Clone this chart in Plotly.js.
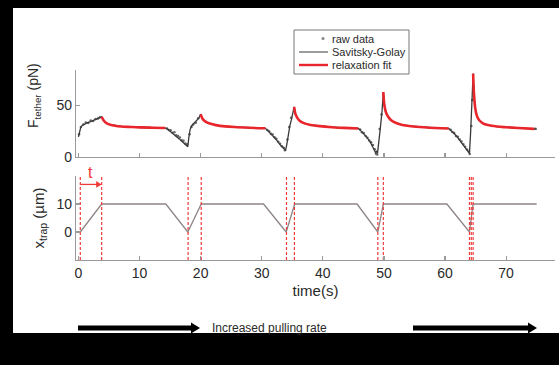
<!DOCTYPE html>
<html><head><meta charset="utf-8">
<script src="https://cdn.plot.ly/plotly-3.0.1.min.js"></script>
<style>html,body{margin:0;padding:0;background:#000;}#chart{width:559px;height:365px;}</style>
</head><body><div id="chart"></div>
<script>
// Savitsky-Golay smoothed tether force (pN) vs time (s)
const sgTime = [0.0,0.15,0.35,0.6,1.0,1.5,2.0,2.5,3.0,3.5,3.8,4.1,4.5,5.0,6.0,7.0,8.5,10,12,14.2,
  14.6,15.0,15.5,16.0,16.5,17.0,17.5,17.9,18.05,18.25,18.5,18.9,19.3,19.7,20.0,
  20.3,20.8,21.5,22.5,24,26,28,30.6,31.0,31.5,32.0,32.5,33.0,33.5,33.9,
  34.1,34.35,34.6,34.9,35.1,35.3,35.5,35.8,36.2,37,38,39.5,41.5,43.5,45.8,
  46.2,46.7,47.2,47.7,48.1,48.4,48.6,48.8,48.95,49.2,49.45,49.7,49.9,
  50.1,50.4,50.8,51.3,52,53,54.5,56.5,58.5,60.6,61.1,61.6,62.1,62.6,63.1,63.6,64.0,
  64.2,64.4,64.6,64.75,64.95,65.2,65.6,66.2,67,68.5,70,72,75];
const sgForce = [19.5,24,28,30.5,32,33.2,34.2,35.3,36.5,37.8,38.8,35.5,33,31.5,30.2,29.5,29,28.6,28.3,28,
  26.8,25,22.6,20.2,17.5,14.8,12.3,10,18,26,30,32.5,34.5,37.5,41.3,
  37,34.2,32.3,30.8,29.6,28.8,28.2,27.7,25.5,22.5,19.5,15.8,12,8.5,6.5,
  12,22,30,37,42,48.4,42,38,35,32.5,31,29.8,28.8,28.1,27.6,
  25.5,22.5,19,15,11,7,4.5,5.5,3.5,15,30,45,62.8,
  49,42,38,35,32.8,31,29.7,28.7,28,27.6,25.2,22,18.5,14.5,10.5,6.5,3.5,
  25,55,80.5,60,47,40,35.5,32.5,30.8,29.4,28.7,28,27];
// relaxation fits (one segment per pulling cycle, separated by gaps)
const fitTime = [3.8,4.1,4.5,5,6,7,8.5,10,12,14.2,null,
  20.0,20.3,20.8,21.5,22.5,24,26,28,30.6,null,
  35.3,35.5,35.8,36.2,37,38,39.5,41.5,43.5,45.8,null,
  49.9,50.1,50.4,50.8,51.3,52,53,54.5,56.5,58.5,60.6,null,
  64.6,64.75,64.95,65.2,65.6,66.2,67,68.5,70,72,74.6];
const fitForce = [38.8,35.5,33,31.5,30.2,29.5,29,28.6,28.3,28,null,
  41.3,37,34.2,32.3,30.8,29.6,28.8,28.2,27.7,null,
  48.4,42,38,35,32.5,31,29.8,28.8,28.1,27.6,null,
  62.8,49,42,38,35,32.8,31,29.7,28.7,28,27.6,null,
  80.5,60,47,40,35.5,32.5,30.8,29.4,28.7,28,27.2];
// raw data samples
const rawTime = [0.1,0.4,0.8,1.2,1.6,2.0,2.4,2.8,3.2,3.5,
  14.5,14.8,15.1,15.4,15.7,16.0,16.3,16.6,16.9,17.2,17.5,17.8,18.2,18.5,18.8,19.2,19.6,
  30.9,31.2,31.5,31.8,32.1,32.4,32.7,33.0,33.3,33.6,33.8,34.2,34.5,34.8,
  46.1,46.4,46.7,47.0,47.3,47.6,47.9,48.2,48.5,48.7,48.9,49.3,49.6,
  60.9,61.2,61.5,61.8,62.1,62.4,62.7,63.0,63.3,63.6,63.9,64.05,64.3,64.45,74.8];
const rawForce = [22,29,31.5,33.4,32.8,35.2,34.8,36.6,37.1,38.5,
  27.5,26.2,25.8,23.5,23.9,21.0,20.4,18.9,16.2,15.8,13.1,12.4,22,29,31.5,33.2,37.5,
  26.0,24.8,22.5,21.8,19.2,17.6,14.8,12.9,10.4,8.9,6.5,17,29,38,
  26.5,24.0,23.1,20.2,18.7,16.0,14.2,11.5,7.5,3.2,2.5,27,41,
  26.3,24.1,23.2,20.4,19.5,16.8,14.9,12.3,9.8,7.2,5.4,3.0,30,55,27.3];
// trap position (µm)
const trapTime = [0.3,3.8,14.3,17.9,20.1,30.3,34.0,35.4,45.6,49.0,49.9,60.3,64.0,64.6,75.0];
const trapPos = [0,10,10,0,10,10,0,10,10,0,10,10,0,10,10];
// times of the red dashed markers
const markTimes = [0.3,3.8,17.95,20.1,34.05,35.35,49.0,49.9,64.0,64.3,64.6];
const xTicks = [0,10,20,30,40,50,60,70];
const forceTicks = [0,50];
const trapTicks = [0,10];
const legendLabels = ['raw data', 'Savitsky-Golay', 'relaxation fit'];

const FONT = '"Liberation Sans", Arial, sans-serif';
const AX = '#9a9a9a';
const TXT = '#2a2a2a';
const RED = '#e8262c';
const MRED = '#f03a3a';

const markX = [], markY = [];
markTimes.forEach(t => { markX.push(t, t, null); markY.push(-10, 20, null); });

const traces = [
  {x: rawTime, y: rawForce, xaxis: 'x', yaxis: 'y', mode: 'markers', name: legendLabels[0], showlegend: false,
   marker: {color: '#666', size: 2.5}},
  {x: sgTime, y: sgForce, xaxis: 'x', yaxis: 'y', mode: 'lines', name: legendLabels[1], showlegend: false,
   line: {color: '#3a3a3a', width: 1.3}},
  {x: fitTime, y: fitForce, xaxis: 'x', yaxis: 'y', mode: 'lines', name: legendLabels[2], showlegend: false,
   line: {color: RED, width: 2.6, shape: 'spline'}, connectgaps: false},
  {x: trapTime, y: trapPos, xaxis: 'x2', yaxis: 'y2', mode: 'lines', showlegend: false,
   line: {color: '#8f8585', width: 1.3}},
  {x: markX, y: markY, xaxis: 'x2', yaxis: 'y2', mode: 'lines', showlegend: false,
   line: {color: MRED, width: 1.2, dash: '3px,2px'}}
];

function px2x(p){ return (p - 76) / 479; }
function px2y(p){ return (260 - p) / 190; }

const axCommon = {showgrid: false, zeroline: false, showline: true, linecolor: AX, linewidth: 1.2,
  ticks: 'inside', ticklen: 4, tickcolor: AX, tickwidth: 1.2,
  tickfont: {family: FONT, size: 14, color: TXT}};

// legend drawn as box + samples + text
const legRows = [38.5, 52, 65];
const legShapes = [
  {type: 'rect', xref: 'paper', yref: 'paper', x0: px2x(294), x1: px2x(409), y0: px2y(74), y1: px2y(30),
   fillcolor: '#fff', line: {color: '#777', width: 1}},
  {type: 'circle', xref: 'paper', yref: 'paper', x0: px2x(321.5), x1: px2x(324.5), y0: px2y(legRows[0] + 1.5), y1: px2y(legRows[0] - 1.5),
   fillcolor: '#888', line: {width: 0}},
  {type: 'line', xref: 'paper', yref: 'paper', x0: px2x(299), x1: px2x(328), y0: px2y(legRows[1]), y1: px2y(legRows[1]),
   line: {color: '#3a3a3a', width: 1}},
  {type: 'line', xref: 'paper', yref: 'paper', x0: px2x(299), x1: px2x(328), y0: px2y(legRows[2]), y1: px2y(legRows[2]),
   line: {color: RED, width: 2.4}}
];
const legAnn = legendLabels.map((s, i) => ({xref: 'paper', yref: 'paper', x: px2x(330), y: px2y(legRows[i]),
  xanchor: 'left', yanchor: 'middle', text: s, showarrow: false, font: {family: FONT, size: 11, color: TXT}}));

// "t" interval arrow between the first two markers
const tArrowY = 17;
const tShapes = [
  {type: 'line', xref: 'x2', yref: 'y2', x0: markTimes[0], x1: markTimes[1] - 0.5, y0: tArrowY, y1: tArrowY,
   line: {color: MRED, width: 1.3}},
  {type: 'path', xref: 'x2', yref: 'y2', fillcolor: MRED, line: {width: 0},
   path: `M ${markTimes[1] - 0.9},${tArrowY + 1.2} L ${markTimes[1]},${tArrowY} L ${markTimes[1] - 0.9},${tArrowY - 1.2} Z`}
];

const layout = {
  width: 559, height: 365,
  margin: {l: 76, r: 4, t: 70, b: 105},
  paper_bgcolor: '#000', plot_bgcolor: 'rgba(0,0,0,0)',
  font: {family: FONT, color: TXT},
  showlegend: false,
  xaxis: Object.assign({}, axCommon, {domain: [0, 1], anchor: 'y', range: [-0.4, 78],
    tickvals: xTicks, showticklabels: false}),
  yaxis: Object.assign({}, axCommon, {domain: [0.542, 1], anchor: 'x', range: [0, 84],
    tickvals: forceTicks}),
  xaxis2: Object.assign({}, axCommon, {domain: [0, 1], anchor: 'y2', range: [-0.4, 78],
    tickvals: xTicks,
    title: {text: 'time(s)', font: {family: FONT, size: 15, color: TXT}, standoff: 5}}),
  yaxis2: Object.assign({}, axCommon, {domain: [0, 0.442], anchor: 'x2', range: [-10, 20],
    tickvals: trapTicks,
    title: {text: 'x<sub>trap</sub> (µm)', font: {family: FONT, size: 15, color: TXT}, standoff: 8}}),
  shapes: [
    {type: 'rect', xref: 'paper', yref: 'paper', x0: px2x(13), x1: px2x(560), y0: px2y(333), y1: px2y(8),
     fillcolor: '#fff', line: {width: 0}, layer: 'below'},
    {type: 'line', xref: 'paper', yref: 'paper', x0: px2x(78), x1: px2x(193), y0: px2y(328), y1: px2y(328),
     line: {color: '#000', width: 5}},
    {type: 'path', xref: 'paper', yref: 'paper', fillcolor: '#000', line: {width: 0},
     path: `M ${px2x(191)},${px2y(322.5)} L ${px2x(200)},${px2y(328)} L ${px2x(191)},${px2y(333.5)} Z`},
    {type: 'line', xref: 'paper', yref: 'paper', x0: px2x(413), x1: px2x(530), y0: px2y(328), y1: px2y(328),
     line: {color: '#000', width: 5}},
    {type: 'path', xref: 'paper', yref: 'paper', fillcolor: '#000', line: {width: 0},
     path: `M ${px2x(528)},${px2y(322.5)} L ${px2x(537)},${px2y(328)} L ${px2x(528)},${px2y(333.5)} Z`}
  ].concat(legShapes, tShapes),
  annotations: [
    {xref: 'paper', yref: 'paper', x: px2x(34), y: px2y(96), xanchor: 'center', yanchor: 'middle',
     text: 'F<sub>tether</sub> (pN)',
     textangle: -90, showarrow: false, font: {family: FONT, size: 14, color: TXT}},
    {xref: 'paper', yref: 'paper', x: px2x(210), y: px2y(328), xanchor: 'left', yanchor: 'middle',
     text: 'Increased pulling rate', showarrow: false, font: {family: FONT, size: 12, color: TXT}},
    {xref: 'paper', yref: 'paper', x: px2x(90), y: px2y(172), xanchor: 'center', yanchor: 'middle',
     text: 't', showarrow: false, font: {family: FONT, size: 16, color: MRED}}
  ].concat(legAnn)
};

Plotly.newPlot('chart', traces, layout, {displayModeBar: false, staticPlot: true});
</script>
</body></html>
